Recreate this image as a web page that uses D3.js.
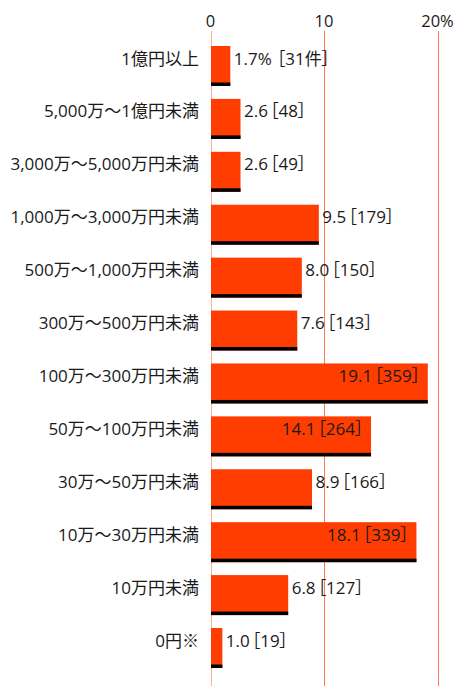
<!doctype html>
<html>
<head>
<meta charset="utf-8">
<style>
body { margin: 0; background: #fff; }
svg text { font-family: "Open Sans", "Noto Sans CJK JP", sans-serif; fill: #1a1a1a; font-feature-settings: "palt"; }
.grid { stroke: #ff7a52; stroke-width: 1px; }
</style>
</head>
<body>
<div id="root"></div>
<script src="https://d3js.org/d3.v7.min.js"></script>
<script>
var categories = ['1億円以上', '5,000万～1億円未満', '3,000万～5,000万円未満', '1,000万～3,000万円未満',
  '500万～1,000万円未満', '300万～500万円未満', '100万～300万円未満', '50万～100万円未満',
  '30万～50万円未満', '10万～30万円未満', '10万円未満', '0円※'];
var percents = [1.7, 2.6, 2.6, 9.5, 8.0, 7.6, 19.1, 14.1, 8.9, 18.1, 6.8, 1.0];
var counts = [31, 48, 49, 179, 150, 143, 359, 264, 166, 339, 127, 19];
var ticks = [0, 10, 20];
var tickLabels = ['0', '10', '20%'];

var rows = categories.map(function(c, i) {
  return { name: c, pct: percents[i], n: counts[i], i: i };
});

var svg = d3.select('#root').append('svg')
  .attr('width', 456)
  .attr('height', 686);

var x = d3.scaleLinear().domain([0, 20]).range([210.5, 437.5]);
var y = d3.scaleBand().domain(categories).range([46, 668]).paddingInner(0.244).paddingOuter(0).align(0);
var bh = y.bandwidth();

// grid lines
svg.append('g').selectAll('line')
  .data(ticks)
  .enter().append('line')
    .attr('class', 'grid')
    .attr('x1', function(d){ return Math.round(x(d)) + 0.5; })
    .attr('x2', function(d){ return Math.round(x(d)) + 0.5; })
    .attr('y1', 31)
    .attr('y2', 686)
    .attr('stroke-opacity', function(d){ return d === 0 ? 0.6 : 1; });

svg.append('g').selectAll('text')
  .data(ticks)
  .enter().append('text')
    .attr('x', function(d){ return x(d); })
    .attr('y', 27)
    .attr('text-anchor', 'middle')
    .style('font-size', '16.5px')
    .text(function(d, i){ return tickLabels[i]; });

var row = svg.append('g').selectAll('g')
  .data(rows)
  .enter().append('g')
    .attr('transform', function(d){ return 'translate(0,' + y(d.name) + ')'; });

row.append('rect')
  .attr('x', x(0) + 0.5)
  .attr('y', 0)
  .attr('width', function(d){ return x(d.pct) - x(0); })
  .attr('height', bh)
  .attr('fill', '#ff3d00');

row.append('rect')
  .attr('x', x(0) + 0.5)
  .attr('y', bh - 3.5)
  .attr('width', function(d){ return x(d.pct) - x(0); })
  .attr('height', 3.5)
  .attr('fill', '#000');

row.append('text')
  .attr('x', 199)
  .attr('y', 18.5)
  .attr('text-anchor', 'end')
  .style('font-size', '17px')
  .text(function(d){ return d.name; });

var val = row.append('text')
  .attr('x', function(d){ return d.pct > 10 ? x(d.pct) - 7 : x(d.pct) + 4; })
  .attr('y', 18.5)
  .attr('text-anchor', function(d){ return d.pct > 10 ? 'end' : 'start'; })
  .style('font-size', '17px');

val.append('tspan')
  .text(function(d){ return d.pct.toFixed(1) + (d.i === 0 ? '%' : ''); });
val.append('tspan')
  .attr('dx', function(d){ return d.i === 0 ? 5 : 2; })
  .text(function(d){ return '［' + d.n + (d.i === 0 ? '件' : '') + '］'; });
</script>
</body>
</html>
